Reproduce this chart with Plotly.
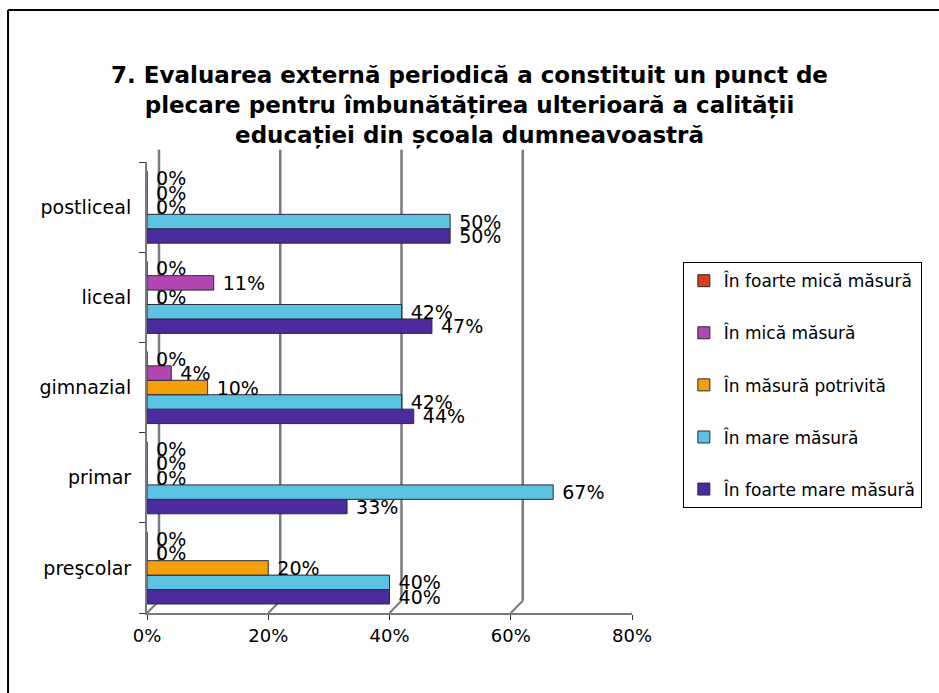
import plotly.graph_objects as go

categories = ["preşcolar", "primar", "gimnazial", "liceal", "postliceal"]
series_names = [
    "În foarte mică măsură",
    "În mică măsură",
    "În măsură potrivită",
    "În mare măsură",
    "În foarte mare măsură",
]
foarte_mica = [0, 0, 0, 0, 0]
mica = [0, 0, 4, 11, 0]
potrivita = [20, 0, 10, 0, 0]
mare = [40, 67, 42, 42, 50]
foarte_mare = [40, 33, 44, 47, 50]
series_values = [foarte_mica, mica, potrivita, mare, foarte_mare]
colors = ["#DC3C18", "#B446B4", "#F5A00A", "#5CC2E2", "#4C2C9C"]
x_ticks = [0, 20, 40, 60, 80]

FONT = "DejaVu Sans, Arial, sans-serif"

fig = go.Figure()
# add bottom-most series first so red ends up on top of each group
for i in reversed(range(len(series_names))):
    fig.add_trace(go.Bar(
        y=categories,
        x=series_values[i],
        name=series_names[i],
        orientation="h",
        legendgroup=str(i),
        legendrank=i + 1,
        marker=dict(color=colors[i], line=dict(color="#2a2a3a", width=1)),
        text=[f" {v}%" for v in series_values[i]],
        textposition="outside",
        constraintext="none",
        textfont=dict(family=FONT, size=19, color="black"),
        cliponaxis=False,
    ))

shapes = []
# back-wall gridlines (3D offset) and floor diagonals
for v in x_ticks:
    shapes.append(dict(type="line", xref="x", yref="paper", xsizemode="pixel", xanchor=v,
                       x0=12, x1=12, y0=0.027, y1=1.027,
                       line=dict(color="#7c7882", width=2.5), layer="below"))
    shapes.append(dict(type="line", xref="x", yref="paper", xsizemode="pixel", xanchor=v,
                       x0=0, x1=12, y0=0, y1=0.027,
                       line=dict(color="#7c7882", width=2), layer="below"))
# outer frame (top and left edges)
shapes.append(dict(type="line", xref="paper", yref="paper", x0=-0.279, x1=1.6, y0=1.337, y1=1.337,
                   line=dict(color="black", width=2)))
shapes.append(dict(type="line", xref="paper", yref="paper", x0=-0.279, x1=-0.279, y0=-0.2, y1=1.337,
                   line=dict(color="black", width=2)))

fig.update_layout(
    width=939, height=693,
    margin=dict(l=147, r=294, t=162, b=80),
    paper_bgcolor="white", plot_bgcolor="white",
    barmode="group", bargap=0.2, bargroupgap=0,
    title=dict(
        text="7. Evaluarea externă periodică a constituit un punct de<br>plecare pentru îmbunătățirea ulterioară a calității<br>educației din școala dumneavoastră",
        x=0.5, xref="container", xanchor="center",
        y=1 - 83 / 693, yref="container", yanchor="top",
        font=dict(family=FONT, size=23, color="black", weight="bold"),
    ),
    xaxis=dict(
        range=[0, 80], domain=[0, 485 / 498],
        tickvals=x_ticks, ticktext=[f"{v}%" for v in x_ticks],
        showgrid=False, zeroline=False,
        showline=True, linecolor="#7c7882", linewidth=2,
        ticks="outside", ticklen=5, tickcolor="#333",
        tickfont=dict(family=FONT, size=18, color="black"),
    ),
    yaxis=dict(
        categoryorder="array", categoryarray=categories,
        showgrid=False, zeroline=False,
        showline=True, linecolor="#7c7882", linewidth=2,
        ticks="outside", tickson="boundaries", ticklen=6, tickcolor="#333",
        ticklabelstandoff=10,
        tickfont=dict(family=FONT, size=19, color="black"),
    ),
    legend=dict(
        x=1.076, y=0.778, xanchor="left", yanchor="top",
        traceorder="grouped", tracegroupgap=27,
        bordercolor="black", borderwidth=1, bgcolor="white",
        font=dict(family=FONT, size=17, color="black"),
        itemwidth=30,
    ),
    shapes=shapes,
    showlegend=True,
)

fig.write_html("out.html")
